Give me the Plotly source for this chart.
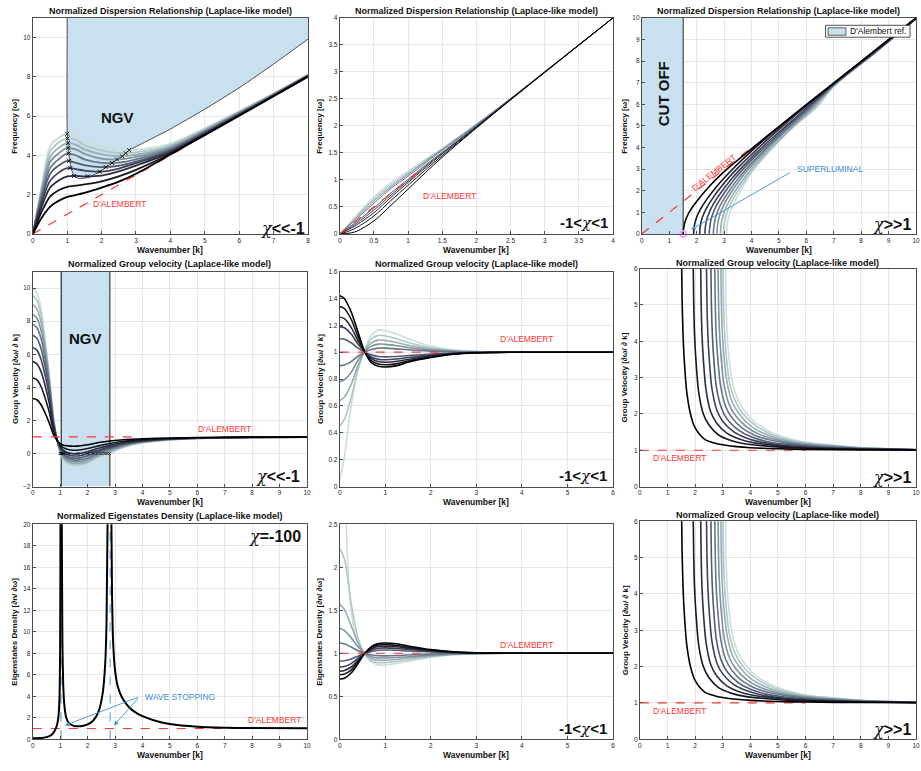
import plotly.graph_objects as go

W, H = 921, 771
SANS = "Liberation Sans, Arial, Helvetica, sans-serif"
INK = "#262626"
GRID = "#e6e6e6"
FILL = "#c9e0ef"
EDGE = "#3a3a3a"
RED = "#ff3535"
BLUE = "#3f8fd2"
# dark -> light shades for the chi families
SHADES = ["#000000", "#16161f", "#2b2b3f", "#3d4059", "#515b71",
          "#667688", "#7d929d", "#95adb1", "#afc7c6", "#c9dfdc"]

# ---------------- dispersion, chi << -1 ----------------
P1_K = [0, 0.25, 0.5, 0.75, 1.0, 1.25, 1.5, 2.0, 2.5, 3.0, 4.0, 5.0, 6.0, 7.0, 8.0]
P1_OMEGA = [
    [0, 0.80, 1.38, 1.68, 1.88, 1.98, 2.09, 2.36, 2.66, 3.06, 4.04, 5.03, 6.02, 7.01, 8.01],
    [0, 1.10, 1.90, 2.22, 2.40, 2.46, 2.52, 2.68, 2.93, 3.26, 4.08, 5.05, 6.03, 7.02, 8.02],
    [0, 1.35, 2.35, 2.72, 2.93, 2.95, 2.93, 2.97, 3.18, 3.48, 4.14, 5.08, 6.05, 7.03, 8.03],
    [0, 1.55, 2.70, 3.12, 3.35, 3.30, 3.22, 3.17, 3.33, 3.60, 4.20, 5.12, 6.08, 7.05, 8.04],
    [0, 1.72, 3.05, 3.48, 3.72, 3.62, 3.50, 3.40, 3.47, 3.68, 4.26, 5.16, 6.10, 7.06, 8.05],
    [0, 1.88, 3.35, 3.80, 4.10, 4.00, 3.80, 3.62, 3.63, 3.80, 4.32, 5.20, 6.13, 7.08, 8.06],
    [0, 2.02, 3.65, 4.10, 4.38, 4.30, 4.08, 3.83, 3.79, 3.92, 4.38, 5.24, 6.16, 7.10, 8.07],
    [0, 2.15, 3.90, 4.38, 4.62, 4.55, 4.30, 4.05, 3.96, 4.03, 4.45, 5.28, 6.19, 7.12, 8.09],
    [0, 2.26, 4.18, 4.65, 4.86, 4.80, 4.52, 4.25, 4.12, 4.15, 4.52, 5.33, 6.22, 7.14, 8.10],
    [0, 2.37, 4.45, 4.90, 5.10, 5.03, 4.72, 4.45, 4.30, 4.28, 4.60, 5.38, 6.26, 7.16, 8.12],
]
NGV_K = [1.0, 1.0, 1.02, 1.05, 1.09, 1.15, 1.24, 1.35, 1.5, 1.7, 1.95, 2.3, 2.6, 2.8, 3.2, 4.0, 5.0, 6.0, 7.0, 8.0]
NGV_OMEGA = [11.0, 5.2, 4.65, 4.05, 3.55, 3.15, 2.92, 2.82, 2.84, 2.95, 3.17, 3.61, 3.95, 4.26, 4.62, 5.34, 6.35, 7.44, 8.65, 9.92]
P1_MAX_K = [1.0, 1.01, 1.02, 1.03, 1.04, 1.06, 1.09, 1.2]
P1_MAX_OMEGA = [5.1, 4.86, 4.62, 4.38, 4.1, 3.72, 3.36, 2.95]
P1_MIN_K = [1.6, 1.95, 2.12, 2.3, 2.45, 2.6, 2.7, 2.8]
P1_MIN_OMEGA = [2.93, 3.17, 3.4, 3.61, 3.79, 3.95, 4.11, 4.26]

# ---------------- dispersion, -1 < chi < 1 ----------------
P2_K = [0, 0.1, 0.25, 0.5, 0.75, 1.0, 1.25, 1.5, 2.0, 2.5, 3.0, 4.0]
P2_OMEGA = [
    [0, 0.006, 0.05, 0.24, 0.53, 0.83, 1.13, 1.42, 1.96, 2.48, 2.99, 4.0],
    [0, 0.035, 0.12, 0.33, 0.62, 0.90, 1.18, 1.45, 1.97, 2.485, 2.99, 4.0],
    [0, 0.06, 0.17, 0.39, 0.68, 0.95, 1.22, 1.48, 1.98, 2.49, 2.995, 4.0],
    [0, 0.075, 0.20, 0.44, 0.72, 0.98, 1.245, 1.495, 1.99, 2.495, 2.995, 4.0],
    [0, 0.09, 0.23, 0.48, 0.76, 1.01, 1.27, 1.51, 1.995, 2.5, 3.0, 4.0],
    [0, 0.11, 0.28, 0.57, 0.84, 1.07, 1.31, 1.545, 2.01, 2.5, 3.0, 4.0],
    [0, 0.119, 0.30, 0.61, 0.87, 1.10, 1.335, 1.56, 2.02, 2.505, 3.0, 4.0],
    [0, 0.126, 0.32, 0.64, 0.90, 1.12, 1.35, 1.57, 2.03, 2.505, 3.0, 4.0],
    [0, 0.134, 0.34, 0.67, 0.93, 1.15, 1.37, 1.58, 2.035, 2.51, 3.005, 4.0],
    [0, 0.142, 0.36, 0.70, 0.96, 1.17, 1.38, 1.59, 2.04, 2.51, 3.005, 4.0],
]

# ---------------- dispersion, chi >> 1 ----------------
P3_K = [
    [1.51, 1.53, 1.6, 1.75, 2.0, 2.5, 3.0, 3.5, 4.0, 5.0, 6.0, 8.0, 10.0],
    [1.89, 1.91, 1.98, 2.13, 2.38, 2.8, 3.3, 3.8, 4.5, 5.5, 7.0, 8.5, 10.0],
    [2.11, 2.13, 2.2, 2.35, 2.6, 3.02, 3.52, 4.02, 4.7, 5.7, 7.0, 8.5, 10.0],
    [2.30, 2.32, 2.39, 2.54, 2.79, 3.21, 3.71, 4.21, 4.9, 5.9, 7.0, 8.5, 10.0],
    [2.46, 2.48, 2.55, 2.7, 2.95, 3.37, 3.87, 4.37, 5.05, 6.0, 7.0, 8.5, 10.0],
    [2.61, 2.63, 2.7, 2.85, 3.1, 3.52, 4.02, 4.52, 5.2, 6.1, 7.0, 8.5, 10.0],
    [2.74, 2.76, 2.83, 2.98, 3.23, 3.65, 4.15, 4.65, 5.3, 6.2, 7.0, 8.5, 10.0],
    [2.87, 2.89, 2.96, 3.11, 3.36, 3.78, 4.28, 4.78, 5.45, 6.3, 7.0, 8.5, 10.0],
    [2.98, 3.0, 3.07, 3.22, 3.47, 3.89, 4.39, 4.89, 5.55, 6.4, 7.0, 8.5, 10.0],
    [3.09, 3.11, 3.18, 3.33, 3.58, 4.0, 4.5, 5.0, 6.0, 7.0, 8.0, 9.0, 10.0],
]
P3_OMEGA = [
    [0, 0.30, 0.65, 1.05, 1.50, 2.25, 2.88, 3.42, 3.94, 4.97, 5.98, 7.99, 10.0],
    [0, 0.32, 0.70, 1.12, 1.62, 2.30, 2.98, 3.60, 4.40, 5.45, 6.97, 8.48, 9.99],
    [0, 0.34, 0.73, 1.17, 1.68, 2.38, 3.08, 3.70, 4.50, 5.60, 6.96, 8.46, 9.98],
    [0, 0.35, 0.76, 1.22, 1.74, 2.45, 3.16, 3.80, 4.60, 5.70, 6.94, 8.44, 9.98],
    [0, 0.36, 0.78, 1.26, 1.79, 2.52, 3.24, 3.88, 4.68, 5.76, 6.92, 8.42, 9.97],
    [0, 0.37, 0.80, 1.29, 1.83, 2.57, 3.30, 3.95, 4.75, 5.80, 6.90, 8.40, 9.97],
    [0, 0.38, 0.82, 1.32, 1.87, 2.62, 3.36, 4.02, 4.82, 5.84, 6.88, 8.39, 9.96],
    [0, 0.39, 0.83, 1.33, 1.90, 2.66, 3.42, 4.08, 4.90, 5.88, 6.86, 8.38, 9.96],
    [0, 0.40, 0.84, 1.34, 1.92, 2.70, 3.48, 4.15, 4.97, 5.90, 6.84, 8.36, 9.96],
    [0, 0.40, 0.85, 1.35, 1.95, 2.85, 3.60, 4.30, 5.60, 6.82, 7.90, 8.95, 9.97],
]
CUTOFF_K = 1.51

# ---------------- group velocity, chi << -1 ----------------
P4_K = [0, 0.15, 0.3, 0.45, 0.6, 0.75, 0.9, 1.0, 1.1, 1.25, 1.5, 1.75, 2.0, 2.4, 2.8, 3.2, 3.6, 4.0, 5.0, 6.0, 8.0, 10.0]
P4_VG = [
    [3.33, 3.25, 2.95, 2.45, 1.85, 1.15, 0.76, 0.60, 0.52, 0.47, 0.44, 0.47, 0.53, 0.66, 0.76, 0.82, 0.86, 0.89, 0.94, 0.965, 0.988, 0.996],
    [4.56, 4.45, 4.05, 3.35, 2.50, 1.40, 0.76, 0.50, 0.37, 0.26, 0.20, 0.23, 0.30, 0.46, 0.60, 0.71, 0.78, 0.83, 0.91, 0.95, 0.984, 0.995],
    [5.56, 5.42, 4.95, 4.10, 3.05, 1.60, 0.76, 0.42, 0.22, 0.06, -0.02, 0.02, 0.11, 0.32, 0.49, 0.63, 0.73, 0.79, 0.89, 0.94, 0.981, 0.994],
    [6.41, 6.25, 5.70, 4.72, 3.50, 1.75, 0.75, 0.35, 0.10, -0.06, -0.15, -0.12, 0.00, 0.20, 0.40, 0.57, 0.69, 0.76, 0.88, 0.935, 0.979, 0.993],
    [7.15, 6.97, 6.35, 5.25, 3.85, 1.88, 0.74, 0.28, -0.02, -0.18, -0.28, -0.25, -0.13, 0.12, 0.33, 0.52, 0.65, 0.74, 0.87, 0.93, 0.977, 0.992],
    [7.81, 7.60, 6.95, 5.72, 4.15, 1.98, 0.73, 0.22, -0.10, -0.29, -0.40, -0.37, -0.27, 0.04, 0.26, 0.47, 0.62, 0.72, 0.86, 0.925, 0.975, 0.991],
    [8.41, 8.18, 7.45, 6.10, 4.35, 2.06, 0.72, 0.16, -0.18, -0.38, -0.50, -0.48, -0.38, -0.05, 0.20, 0.42, 0.59, 0.70, 0.85, 0.92, 0.973, 0.990],
    [9.00, 8.75, 7.95, 6.45, 4.50, 2.12, 0.71, 0.11, -0.25, -0.47, -0.60, -0.58, -0.48, -0.13, 0.12, 0.37, 0.56, 0.68, 0.84, 0.915, 0.971, 0.989],
    [9.54, 9.27, 8.40, 6.70, 4.62, 2.17, 0.705, 0.07, -0.31, -0.55, -0.69, -0.66, -0.56, -0.20, 0.06, 0.33, 0.53, 0.66, 0.83, 0.91, 0.969, 0.988],
    [10.0, 9.70, 8.80, 6.90, 4.70, 2.20, 0.70, 0.03, -0.36, -0.62, -0.76, -0.73, -0.60, -0.27, 0.00, 0.29, 0.50, 0.64, 0.82, 0.905, 0.967, 0.987],
]
P4_NGV_BAND = [1.04, 2.81]
P4_ZERO_K = [1.0, 1.02, 1.04, 1.06, 1.09, 1.13, 1.19, 1.3, 1.65, 2.0, 2.2, 2.35, 2.48, 2.61, 2.71, 2.8]

# ---------------- group velocity, -1 < chi < 1 ----------------
P5_K = [0, 0.1, 0.25, 0.4, 0.55, 0.7, 0.85, 1.0, 1.25, 1.5, 2.0, 2.5, 3.0, 4.0, 6.0]
P5_VG = [
    [1.42, 1.40, 1.30, 1.15, 1.00, 0.92, 0.895, 0.89, 0.90, 0.925, 0.96, 0.985, 0.995, 1.0, 1.0],
    [1.34, 1.325, 1.245, 1.115, 1.00, 0.935, 0.912, 0.906, 0.915, 0.935, 0.965, 0.987, 0.996, 1.0, 1.0],
    [1.26, 1.25, 1.185, 1.085, 1.00, 0.95, 0.93, 0.925, 0.932, 0.946, 0.971, 0.989, 0.997, 1.0, 1.0],
    [1.19, 1.182, 1.135, 1.06, 1.00, 0.963, 0.948, 0.944, 0.949, 0.96, 0.978, 0.991, 0.998, 1.0, 1.0],
    [1.10, 1.096, 1.07, 1.03, 1.00, 0.98, 0.968, 0.965, 0.968, 0.975, 0.986, 0.994, 0.998, 1.0, 1.0],
    [0.90, 0.905, 0.93, 0.97, 1.00, 1.02, 1.03, 1.03, 1.025, 1.018, 1.008, 1.003, 1.001, 1.0, 1.0],
    [0.78, 0.795, 0.85, 0.94, 1.005, 1.045, 1.06, 1.058, 1.048, 1.035, 1.016, 1.006, 1.002, 1.0, 1.0],
    [0.64, 0.665, 0.76, 0.90, 1.01, 1.07, 1.09, 1.087, 1.072, 1.052, 1.024, 1.009, 1.003, 1.0, 1.0],
    [0.45, 0.50, 0.66, 0.87, 1.015, 1.10, 1.125, 1.12, 1.10, 1.072, 1.033, 1.012, 1.004, 1.0, 1.0],
    [0.05, 0.22, 0.60, 0.87, 1.02, 1.13, 1.165, 1.16, 1.135, 1.10, 1.045, 1.017, 1.005, 1.0, 1.0],
]

# ---------------- group velocity, chi >> 1 ----------------
P6_K = [
    [1.51, 1.53, 1.56, 1.6, 1.7, 1.85, 2.0, 2.35, 2.7, 3.0, 3.5, 4.0, 5.0, 6.0, 8.0, 10.0],
    [1.93, 1.95, 1.98, 2.03, 2.13, 2.3, 2.5, 2.85, 3.3, 3.8, 4.5, 5.5, 7.0, 10.0],
    [2.2, 2.22, 2.25, 2.3, 2.4, 2.57, 2.78, 3.15, 3.6, 4.1, 4.8, 5.8, 7.2, 10.0],
    [2.41, 2.43, 2.46, 2.51, 2.61, 2.79, 3.0, 3.38, 3.85, 4.35, 5.0, 6.0, 7.5, 10.0],
    [2.57, 2.59, 2.62, 2.67, 2.77, 2.96, 3.17, 3.56, 4.03, 4.55, 5.2, 6.2, 7.7, 10.0],
    [2.71, 2.73, 2.76, 2.81, 2.92, 3.11, 3.33, 3.72, 4.2, 4.72, 5.4, 6.4, 7.9, 10.0],
    [2.83, 2.85, 2.88, 2.93, 3.04, 3.24, 3.47, 3.87, 4.35, 4.88, 5.55, 6.6, 8.0, 10.0],
    [2.93, 2.95, 2.98, 3.03, 3.15, 3.36, 3.6, 4.0, 4.5, 5.02, 5.7, 6.75, 8.0, 10.0],
    [3.01, 3.03, 3.06, 3.12, 3.24, 3.46, 3.7, 4.12, 4.62, 5.15, 5.85, 6.9, 8.0, 10.0],
    [3.1, 3.12, 3.15, 3.21, 3.33, 3.55, 3.8, 4.2, 4.7, 5.25, 6.0, 7.0, 8.0, 10.0],
]
P6_VG = [
    [6.3, 5.2, 4.3, 3.6, 2.6, 1.95, 1.62, 1.30, 1.20, 1.15, 1.10, 1.07, 1.04, 1.025, 1.01, 1.005],
    [6.3, 5.1, 4.2, 3.5, 2.6, 2.0, 1.70, 1.42, 1.27, 1.18, 1.12, 1.07, 1.035, 1.01],
    [6.3, 5.1, 4.2, 3.5, 2.65, 2.05, 1.75, 1.47, 1.31, 1.21, 1.14, 1.08, 1.04, 1.012],
    [6.3, 5.1, 4.25, 3.55, 2.7, 2.1, 1.80, 1.52, 1.34, 1.23, 1.15, 1.09, 1.045, 1.013],
    [6.3, 5.1, 4.3, 3.6, 2.75, 2.15, 1.85, 1.56, 1.37, 1.25, 1.17, 1.10, 1.05, 1.014],
    [6.3, 5.1, 4.3, 3.65, 2.8, 2.2, 1.90, 1.60, 1.40, 1.28, 1.19, 1.11, 1.055, 1.015],
    [6.3, 5.1, 4.35, 3.7, 2.85, 2.25, 1.95, 1.64, 1.43, 1.30, 1.20, 1.12, 1.06, 1.015],
    [6.3, 5.1, 4.35, 3.75, 2.9, 2.3, 2.00, 1.68, 1.46, 1.32, 1.21, 1.13, 1.065, 1.016],
    [6.3, 5.1, 4.4, 3.7, 2.9, 2.35, 2.04, 1.72, 1.49, 1.34, 1.22, 1.14, 1.07, 1.017],
    [6.3, 5.1, 4.4, 3.7, 2.95, 2.4, 2.08, 1.75, 1.52, 1.36, 1.22, 1.14, 1.075, 1.018],
]

# ---------------- eigenstates density, chi = -100 ----------------
P7_K_LOW = [0, 0.3, 0.5, 0.65, 0.75, 0.82, 0.88, 0.93, 0.96, 0.98, 0.995, 1.005, 1.012]
P7_D_LOW = [0.1, 0.12, 0.2, 0.35, 0.6, 0.9, 1.3, 2.0, 3.0, 4.5, 8.0, 14.0, 24.0]
P7_K_MID = [1.05, 1.065, 1.08, 1.11, 1.15, 1.22, 1.32, 1.5, 1.75, 2.0, 2.2, 2.4, 2.55, 2.64, 2.69, 2.73]
P7_D_MID = [24.0, 16.0, 9.0, 5.0, 3.2, 2.0, 1.5, 1.24, 1.22, 1.38, 1.72, 2.6, 4.3, 7.0, 11.0, 21.0]
P7_K_HIGH = [2.86, 2.89, 2.93, 3.0, 3.1, 3.25, 3.5, 3.8, 4.0, 4.5, 5.0, 6.0, 7.0, 8.0, 10.0]
P7_D_HIGH = [22.0, 13.5, 9.0, 6.4, 4.9, 3.9, 3.0, 2.4, 2.15, 1.7, 1.42, 1.17, 1.08, 1.04, 1.02]
P7_STOP_K = [1.03, 2.82]

# ---------------- eigenstates density, -1 < chi < 1 ----------------
P8_K = [0, 0.1, 0.25, 0.4, 0.55, 0.7, 0.85, 1.0, 1.25, 1.5, 2.0, 2.5, 3.0, 4.0, 6.0]
P8_D = [
    [0.70, 0.71, 0.77, 0.88, 1.0, 1.08, 1.112, 1.12, 1.11, 1.085, 1.042, 1.016, 1.005, 1.0, 1.0],
    [0.75, 0.76, 0.805, 0.90, 1.0, 1.065, 1.095, 1.10, 1.09, 1.07, 1.036, 1.014, 1.004, 1.0, 1.0],
    [0.79, 0.80, 0.84, 0.92, 1.0, 1.052, 1.078, 1.082, 1.075, 1.058, 1.03, 1.011, 1.003, 1.0, 1.0],
    [0.84, 0.846, 0.88, 0.94, 1.0, 1.038, 1.058, 1.062, 1.056, 1.044, 1.023, 1.009, 1.003, 1.0, 1.0],
    [0.91, 0.913, 0.932, 0.966, 1.0, 1.02, 1.034, 1.037, 1.034, 1.027, 1.015, 1.006, 1.002, 1.0, 1.0],
    [1.12, 1.11, 1.072, 1.03, 1.0, 0.98, 0.972, 0.97, 0.973, 0.98, 0.99, 0.996, 0.999, 1.0, 1.0],
    [1.29, 1.265, 1.18, 1.075, 0.998, 0.958, 0.945, 0.945, 0.95, 0.96, 0.978, 0.992, 0.998, 1.0, 1.0],
    [1.57, 1.51, 1.32, 1.12, 0.995, 0.935, 0.918, 0.918, 0.928, 0.945, 0.97, 0.988, 0.997, 1.0, 1.0],
    [2.22, 2.10, 1.58, 1.18, 0.99, 0.91, 0.89, 0.892, 0.905, 0.925, 0.96, 0.985, 0.996, 1.0, 1.0],
]
P8_K_STEEP = [0, 0.04, 0.08, 0.12, 0.16, 0.2, 0.25, 0.32, 0.4, 0.55, 0.7, 0.85, 1.0, 1.25, 1.5, 2.0, 2.5, 3.0, 4.0, 6.0]
P8_D_STEEP = [20.0, 8.0, 4.2, 2.9, 2.2, 1.8, 1.5, 1.26, 1.12, 0.98, 0.9, 0.865, 0.862, 0.88, 0.905, 0.95, 0.982, 0.995, 1.0, 1.0]

# ---------------- panel frames ----------------
# pixel boxes: left, right, top, bottom
BOXES = {1: (31, 308, 14, 232), 2: (340, 615, 14, 232), 3: (644, 920, 14, 232),
         4: (31, 307, 270, 487), 5: (340, 615, 270, 487), 6: (642, 920, 267, 487),
         7: (31, 307, 525, 742), 8: (340, 615, 525, 742), 9: (642, 920, 522, 742)}
XRANGE = {1: [0, 8], 2: [0, 4], 3: [0, 10], 4: [0, 10], 5: [0, 6], 6: [0, 10], 7: [0, 10], 8: [0, 6], 9: [0, 10]}
YRANGE = {1: [0, 11], 2: [0, 4], 3: [0, 10], 4: [-2, 11], 5: [0, 1.6], 6: [0, 6], 7: [0, 20], 8: [0, 2.5], 9: [0, 6]}
XDTICK = {1: 1, 2: 0.5, 3: 1, 4: 1, 5: 1, 6: 1, 7: 1, 8: 1, 9: 1}
YDTICK = {1: 2, 2: 0.5, 3: 1, 4: 2, 5: 0.2, 6: 1, 7: 2, 8: 0.5, 9: 1}

TITLE_DISP = "Normalized Dispersion Relationship (Laplace-like model)"
TITLE_VG = "Normalized Group velocity (Laplace-like model)"
TITLE_DOS = "Normalized Eigenstates Density (Laplace-like model)"
TITLES = {1: TITLE_DISP, 2: TITLE_DISP, 3: TITLE_DISP, 4: TITLE_VG, 5: TITLE_VG,
          6: TITLE_VG, 7: TITLE_DOS, 8: None, 9: TITLE_VG}
YLAB_W = "Frequency [ω]"
YLAB_VG = "Group Velocity [∂ω/ ∂ k]"
YLAB_DOS = "Eigenstates Density [∂n/ ∂ω]"
YLABELS = {1: YLAB_W, 2: YLAB_W, 3: YLAB_W, 4: YLAB_VG, 5: YLAB_VG, 6: YLAB_VG,
           7: YLAB_DOS, 8: YLAB_DOS, 9: YLAB_VG}
LEGEND_LABEL = "D'Alembert ref."

fig = go.Figure()


def ids(n):
    return ("x" if n == 1 else f"x{n}", "y" if n == 1 else f"y{n}")


def line(n, x, y, color, width, dash=None, shape="spline", smoothing=0.8):
    xa, ya = ids(n)
    ln = dict(color=color, width=width, dash=dash, shape=shape)
    if shape == "spline":
        ln["smoothing"] = smoothing
    fig.add_trace(go.Scatter(x=x, y=y, mode="lines", xaxis=xa, yaxis=ya,
                             showlegend=False, hoverinfo="skip", line=ln))


def family(n, ks, vals, width, first=0):
    # lightest drawn first, darkest on top
    for i in range(len(vals) - 1, -1, -1):
        k = ks[i] if isinstance(ks[0], list) else ks
        line(n, k, vals[i], SHADES[first + i], width)


def area(n, x, y):
    xa, ya = ids(n)
    fig.add_trace(go.Scatter(x=x, y=y, mode="lines", fill="toself", fillcolor=FILL,
                             line=dict(width=0), xaxis=xa, yaxis=ya,
                             showlegend=False, hoverinfo="skip"))


def dalembert_diag(n, k_end):
    line(n, [0, k_end], [0, k_end], RED, 1.2, dash="dash", shape="linear")


def dalembert_flat(n, k_end):
    line(n, [0, k_end], [1, 1], RED, 1.2, dash="dash", shape="linear")


# ---- panel 1 ----
area(1, NGV_K + [8.0, 1.0], NGV_OMEGA + [11.0, 11.0])
line(1, NGV_K, NGV_OMEGA, EDGE, 0.9, smoothing=0.6)
dalembert_diag(1, 4.5)
family(1, P1_K, P1_OMEGA, 1.8)
fig.add_trace(go.Scatter(x=P1_MAX_K + P1_MIN_K, y=P1_MAX_OMEGA + P1_MIN_OMEGA, mode="markers",
                         marker=dict(symbol="x-thin", size=4, line=dict(width=1, color="#111")),
                         xaxis="x", yaxis="y", showlegend=False, hoverinfo="skip"))

# ---- panel 2 ----
family(2, P2_K, P2_OMEGA, 1.0)
dalembert_diag(2, 1.25)

# ---- panel 3 ----
area(3, [0, CUTOFF_K, CUTOFF_K, 0, 0], [0, 0, 10, 10, 0])
line(3, [CUTOFF_K, CUTOFF_K], [0, 10], EDGE, 1.1, shape="linear")
dalembert_diag(3, 4.0)
family(3, P3_K, P3_OMEGA, 1.6)
fig.add_trace(go.Scatter(x=[CUTOFF_K], y=[0], mode="markers", cliponaxis=False,
                         marker=dict(symbol="circle-open", size=6, line=dict(width=1.6, color="#2f7fc4")),
                         xaxis="x3", yaxis="y3", showlegend=False, hoverinfo="skip"))

# ---- panel 4 ----
b0, b1 = P4_NGV_BAND
area(4, [b0, b1, b1, b0, b0], [-2, -2, 11, 11, -2])
line(4, [b0, b0], [-2, 11], EDGE, 1.2, shape="linear")
line(4, [b1, b1], [-2, 11], EDGE, 1.2, shape="linear")
family(4, P4_K, P4_VG, 1.6)
dalembert_flat(4, 3.6)
fig.add_trace(go.Scatter(x=P4_ZERO_K, y=[0] * len(P4_ZERO_K), mode="markers",
                         marker=dict(symbol="x-thin", size=3, line=dict(width=0.8, color="#111")),
                         xaxis="x4", yaxis="y4", showlegend=False, hoverinfo="skip"))

# ---- panel 5 ----
family(5, P5_K, P5_VG, 1.6)
dalembert_flat(5, 2.4)

# ---- panels 6 and 9 ----
for n in (6, 9):
    dalembert_flat(n, 6.0)
    family(n, P6_K, P6_VG, 1.6)

# ---- panel 7 ----
dalembert_flat(7, 10)
for k in P7_STOP_K:
    line(7, [k, k], [0, 20], "#5aa2de", 1.1, dash="dash", shape="linear")
line(7, P7_K_LOW, P7_D_LOW, "#000000", 2.0, smoothing=0.6)
line(7, P7_K_MID, P7_D_MID, "#000000", 2.0, smoothing=0.6)
line(7, P7_K_HIGH, P7_D_HIGH, "#000000", 2.0, smoothing=0.6)

# ---- panel 8 ----
line(8, P8_K_STEEP, P8_D_STEEP, SHADES[9], 1.6, smoothing=0.6)
family(8, P8_K, P8_D, 1.6)
dalembert_flat(8, 2.0)

# ---------------- axes ----------------
layout_axes = {}
for n, (l, r, t, b) in BOXES.items():
    xa, ya = ids(n)
    common = dict(showgrid=True, gridcolor=GRID, gridwidth=1, showline=True, linecolor="#4d4d4d",
                  linewidth=1, mirror=True, ticks="inside", ticklen=3, tickcolor="#4d4d4d",
                  tickfont=dict(size=6.5, color=INK, family=SANS), zeroline=False,
                  fixedrange=True, tick0=0)
    layout_axes["xaxis" if n == 1 else f"xaxis{n}"] = dict(
        domain=[l / W, r / W], range=XRANGE[n], dtick=XDTICK[n], anchor=ya, **common)
    layout_axes["yaxis" if n == 1 else f"yaxis{n}"] = dict(
        domain=[1 - b / H, 1 - t / H], range=YRANGE[n], dtick=YDTICK[n], anchor=xa, **common)

# ---------------- text ----------------
notes = []


def paper_text(px, py, text, size, bold=True, angle=0, color="#111", xanchor="center"):
    notes.append(dict(x=px / W, y=1 - py / H, xref="paper", yref="paper", showarrow=False,
                      text=f"<b>{text}</b>" if bold else text, textangle=angle,
                      font=dict(size=size, color=color, family=SANS),
                      xanchor=xanchor, yanchor="middle"))


def data_text(n, x, y, text, size, color="#111", bold=False, angle=0, xanchor="center"):
    xa, ya = ids(n)
    notes.append(dict(x=x, y=y, xref=xa, yref=ya, showarrow=False,
                      text=f"<b>{text}</b>" if bold else text, textangle=angle,
                      font=dict(size=size, color=color, family=SANS),
                      xanchor=xanchor, yanchor="middle"))


TITLE_Y = {1: 7, 2: 7, 3: 7, 4: 262, 5: 262, 6: 261, 7: 517, 8: 517, 9: 516}
XLAB_Y = {1: 248, 2: 248, 3: 248, 4: 503, 5: 503, 6: 503, 7: 758, 8: 758, 9: 758}
YLAB_X = {1: 13, 2: 320, 3: 627, 4: 13, 5: 320, 6: 627, 7: 13, 8: 320, 9: 627}
for n, (l, r, t, b) in BOXES.items():
    if TITLES[n]:
        paper_text((l + r) / 2, TITLE_Y[n], TITLES[n], 9)
    paper_text((l + r) / 2, XLAB_Y[n], "Wavenumber [k]", 8.5)
    paper_text(YLAB_X[n], (t + b) / 2, YLABELS[n], 8, angle=-90)

CHI = '<span style="font-family:\'DejaVu Serif\', serif"><i>χ</i></span>'
REGIMES = {1: "&lt;&lt;-1", 3: "&gt;&gt;1", 4: "&lt;&lt;-1", 6: "&gt;&gt;1", 7: "=-100", 9: "&gt;&gt;1"}
REGIME_POS = {1: (7.97, 0.3), 3: (9.9, 0.45), 4: (9.8, -1.4), 6: (9.88, 0.26), 7: (9.85, 18.9), 9: (9.88, 0.26)}
for n, tail in REGIMES.items():
    x, y = REGIME_POS[n]
    data_text(n, x, y, f"{CHI}<b>{tail}</b>", 16, xanchor="right")
for n, (x, y) in {2: (3.95, 0.2), 5: (5.92, 0.08), 8: (5.92, 0.12)}.items():
    data_text(n, x, y, f"<b>-1&lt;</b>{CHI}<b>&lt;1</b>", 15, xanchor="right")

data_text(1, 2.47, 5.93, "NGV", 15, bold=True)
data_text(4, 1.91, 6.95, "NGV", 15, bold=True)
data_text(3, 0.8, 6.5, "CUT OFF", 15, bold=True, angle=-90)

data_text(1, 2.52, 1.5, "D'ALEMBERT", 8.5, color=RED)
data_text(2, 1.61, 0.7, "D'ALEMBERT", 8.5, color=RED)
data_text(3, 2.61, 2.84, "D'ALEMBERT", 8.5, color=RED, angle=-38)
data_text(4, 6.98, 1.49, "D'ALEMBERT", 8.5, color=RED)
data_text(5, 4.11, 1.097, "D'ALEMBERT", 8.5, color=RED)
data_text(6, 1.42, 0.79, "D'ALEMBERT", 8.5, color=RED)
data_text(7, 8.8, 1.8, "D'ALEMBERT", 8.5, color=RED)
data_text(8, 4.11, 1.1, "D'ALEMBERT", 8.5, color=RED)
data_text(9, 1.42, 0.79, "D'ALEMBERT", 8.5, color=RED)

data_text(3, 5.57, 3.0, "SUPERLUMINAL", 8.5, color=BLUE, xanchor="left")
data_text(7, 4.02, 3.96, "WAVE STOPPING", 8.5, color=BLUE, xanchor="left")


def arrow(n, x, y, ax, ay):
    xa, ya = ids(n)
    notes.append(dict(x=x, y=y, ax=ax, ay=ay, xref=xa, yref=ya, axref=xa, ayref=ya,
                      text="", showarrow=True, arrowhead=2, arrowsize=1, arrowwidth=0.9,
                      arrowcolor=BLUE))


arrow(3, 1.8, 0.2, 5.45, 2.87)
arrow(7, 1.17, 1.29, 3.89, 3.96)
arrow(7, 2.96, 1.29, 3.89, 3.96)

# legend box of the cut-off panel, drawn in page pixels
paper_text(852, 27.5, LEGEND_LABEL, 8.5, bold=False, xanchor="left")
legend_shapes = [
    dict(type="rect", xref="paper", yref="paper", x0=829 / W, x1=914 / W,
         y0=1 - 33.5 / H, y1=1 - 21.5 / H, line=dict(color=INK, width=0.8),
         fillcolor="white", layer="above"),
    dict(type="rect", xref="paper", yref="paper", x0=831.5 / W, x1=849.5 / W,
         y0=1 - 31.5 / H, y1=1 - 24 / H, line=dict(color=EDGE, width=0.8),
         fillcolor=FILL, layer="above"),
]

fig.update_layout(
    width=W, height=H, margin=dict(l=0, r=0, t=0, b=0),
    paper_bgcolor="white", plot_bgcolor="white",
    font=dict(family=SANS, color=INK),
    annotations=notes, shapes=legend_shapes, showlegend=False,
    **layout_axes,
)

fig.write_html("out.html")
